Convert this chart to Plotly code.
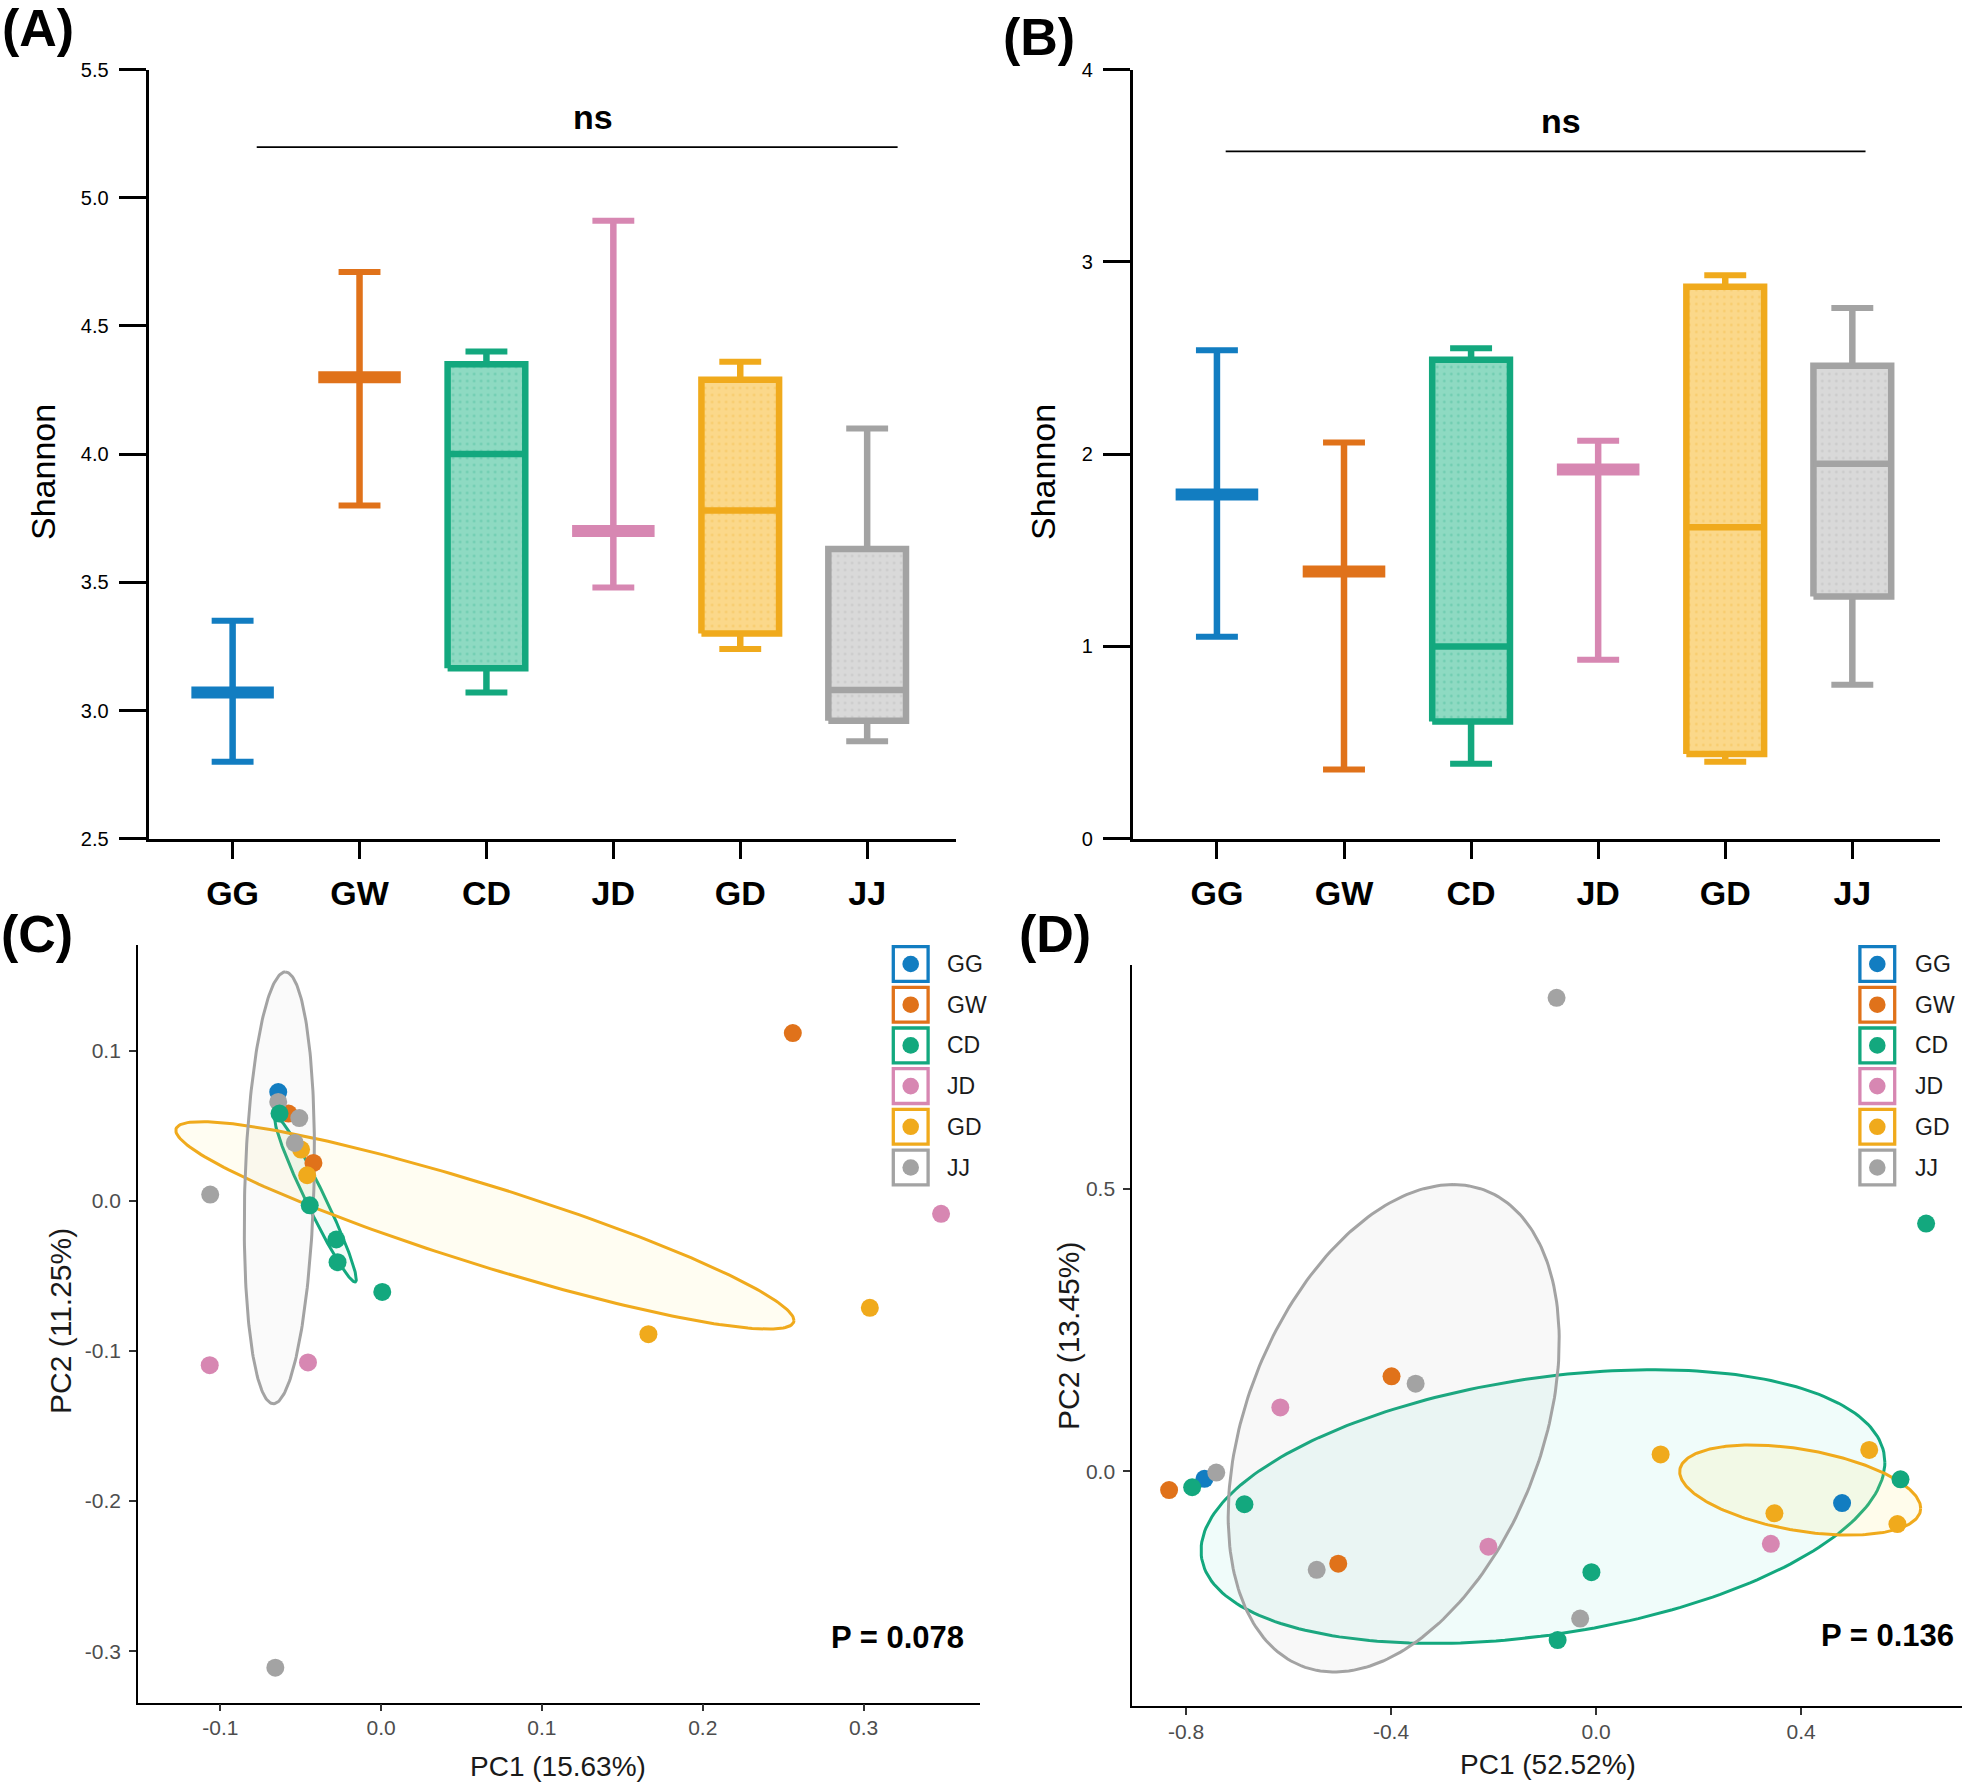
import numpy as np
import plotly.graph_objects as go

W, H = 1966, 1789

# ---------------- data ----------------
groups = ["GG", "GW", "CD", "JD", "GD", "JJ"]
line_colors = ["#127DC1", "#E0721A", "#13A87E", "#D787B2", "#F0AA1C", "#A3A3A3"]
fill_colors = ["#8AC0E3", "#F3BE93", "#8EDAC2", "#EEC6DB", "#FBD88A", "#D9D9D9"]

# Panel A (Shannon) box statistics
a_min = [2.80, 3.80, 3.07, 3.48, 3.24, 2.88]
a_q1 = [3.07, 4.30, 3.165, 3.70, 3.30, 2.96]
a_med = [3.07, 4.30, 4.00, 3.70, 3.78, 3.08]
a_q3 = [3.07, 4.30, 4.35, 3.70, 4.29, 3.63]
a_max = [3.35, 4.71, 4.40, 4.91, 4.36, 4.10]
a_yticks = [2.5, 3.0, 3.5, 4.0, 4.5, 5.0, 5.5]

# Panel B (Shannon) box statistics
b_min = [1.05, 0.36, 0.39, 0.93, 0.40, 0.80]
b_q1 = [1.79, 1.39, 0.61, 1.92, 0.44, 1.26]
b_med = [1.79, 1.39, 1.00, 1.92, 1.62, 1.95]
b_q3 = [1.79, 1.39, 2.49, 1.92, 2.87, 2.46]
b_max = [2.54, 2.06, 2.55, 2.07, 2.93, 2.76]
b_yticks = [0, 1, 2, 3, 4]

# Panel C PCoA coordinates
c_pc1 = {
    "GG": [-0.0640],
    "GW": [0.2560, -0.0576, -0.0421],
    "CD": [-0.0632, -0.0444, -0.0279, -0.0271, 0.0007],
    "JD": [0.3482, -0.1066, -0.0455],
    "GD": [0.1662, 0.3039, -0.0498, -0.0460],
    "JJ": [-0.0640, -0.0509, -0.0537, -0.1063, -0.0658],
}
c_pc2 = {
    "GG": [0.0724],
    "GW": [0.1117, 0.0581, 0.0252],
    "CD": [0.0581, -0.0030, -0.0258, -0.0409, -0.0607],
    "JD": [-0.0087, -0.1095, -0.1077],
    "GD": [-0.0889, -0.0713, 0.0341, 0.0170],
    "JJ": [0.0658, 0.0551, 0.0385, 0.0041, -0.3110],
}
# ellipse params: centre (cx, cy) and conjugate semi-diameters (ax, ay), (bx, by)
c_ell_groups = ["CD", "GD", "JJ"]
c_ell_cx = [-0.0408, 0.0645, -0.0633]
c_ell_cy = [0.0009, -0.0164, 0.0086]
c_ell_ax = [-0.0245, 0.1922, 0.0037]
c_ell_ay = [0.0550, -0.0633, 0.1438]
c_ell_bx = [0.0065, 0.0, 0.0215]
c_ell_by = [0.0, 0.0277, 0.0]
c_ell_fill = ["rgba(19,168,126,0.05)", "rgba(255,232,110,0.09)", "rgba(160,160,160,0.05)"]
c_xticks = [-0.1, 0.0, 0.1, 0.2, 0.3]
c_xtext = ["-0.1", "0.0", "0.1", "0.2", "0.3"]
c_yticks = [-0.3, -0.2, -0.1, 0.0, 0.1]
c_ytext = ["-0.3", "-0.2", "-0.1", "0.0", "0.1"]

# Panel D PCoA coordinates
d_pc1 = {
    "GG": [-0.764, 0.480],
    "GW": [-0.833, -0.399, -0.503],
    "CD": [-0.788, -0.686, 0.644, 0.594, -0.009, -0.075],
    "JD": [-0.616, -0.210, 0.341],
    "GD": [0.126, 0.533, 0.348, 0.588],
    "JJ": [-0.741, -0.352, -0.077, -0.545, -0.031],
}
d_pc2 = {
    "GG": [-0.013, -0.056],
    "GW": [-0.033, 0.168, -0.163],
    "CD": [-0.028, -0.058, 0.438, -0.014, -0.178, -0.298],
    "JD": [0.113, -0.133, -0.128],
    "GD": [0.030, 0.038, -0.074, -0.093],
    "JJ": [-0.002, 0.155, 0.837, -0.174, -0.260],
}
d_ell_groups = ["CD", "GD", "JJ"]
d_ell_cx = [-0.1036, 0.3983, -0.3948]
d_ell_cy = [-0.0620, -0.0329, 0.0762]
d_ell_ax = [0.6671, 0.2351, 0.1158]
d_ell_ay = [0.0780, -0.0323, 0.4308]
d_ell_bx = [0.0, 0.0, 0.3015]
d_ell_by = [0.2290, 0.0728, 0.0]
d_ell_fill = ["rgba(60,215,195,0.08)", "rgba(255,230,100,0.13)", "rgba(150,150,150,0.07)"]
d_xticks = [-0.8, -0.4, 0.0, 0.4]
d_xtext = ["-0.8", "-0.4", "0.0", "0.4"]
d_yticks = [0.0, 0.5]
d_ytext = ["0.0", "0.5"]

c_ptext = "P = 0.078"
d_ptext = "P = 0.136"
c_xtitle, c_ytitle = "PC1 (15.63%)", "PC2 (11.25%)"
d_xtitle, d_ytitle = "PC1 (52.52%)", "PC2 (13.45%)"

# ---------------- helpers ----------------
FONT = "Liberation Sans, Arial, sans-serif"


def px(x):
    return x / W


def py(y):
    return 1 - y / H


fig = go.Figure()
color_of = dict(zip(groups, line_colors))


def box_panel(xa, ya, mins, q1, med, q3, mx):
    hw = 0.306   # half box width (category units)
    cap = 0.165  # half cap width
    for i, g in enumerate(groups):
        col = line_colors[i]
        has_box = q3[i] > q1[i]
        if has_box:
            fig.add_trace(go.Bar(
                x=[i], y=[q3[i] - q1[i]], base=[q1[i]], width=2 * hw,
                marker=dict(color=fill_colors[i], line=dict(width=0),
                            pattern=dict(shape=".", fillmode="overlay", bgcolor=fill_colors[i],
                                         fgcolor=col, fgopacity=0.3, size=7, solidity=0.1)),
                xaxis=xa, yaxis=ya, showlegend=False, hoverinfo="skip"))
        # whiskers
        fig.add_trace(go.Scatter(
            x=[i, i, None, i, i], y=[mins[i], q1[i], None, q3[i], mx[i]],
            mode="lines", line=dict(color=col, width=6.5),
            xaxis=xa, yaxis=ya, showlegend=False, hoverinfo="skip"))
        # caps
        fig.add_trace(go.Scatter(
            x=[i - cap, i + cap, None, i - cap, i + cap],
            y=[mins[i], mins[i], None, mx[i], mx[i]],
            mode="lines", line=dict(color=col, width=6),
            xaxis=xa, yaxis=ya, showlegend=False, hoverinfo="skip"))
        if has_box:
            fig.add_trace(go.Scatter(
                x=[i - hw, i + hw, i + hw, i - hw, i - hw],
                y=[q1[i], q1[i], q3[i], q3[i], q1[i]],
                mode="lines", line=dict(color=col, width=6.5),
                xaxis=xa, yaxis=ya, showlegend=False, hoverinfo="skip"))
            fig.add_trace(go.Scatter(
                x=[i - hw, i + hw], y=[med[i], med[i]],
                mode="lines", line=dict(color=col, width=6.5),
                xaxis=xa, yaxis=ya, showlegend=False, hoverinfo="skip"))
        else:
            fig.add_trace(go.Scatter(
                x=[i - 0.325, i + 0.325], y=[med[i], med[i]],
                mode="lines", line=dict(color=col, width=12),
                xaxis=xa, yaxis=ya, showlegend=False, hoverinfo="skip"))


def pcoa_panel(xa, ya, pc1, pc2, eg, ecx, ecy, eax, eay, ebx, eby, efill):
    t = np.linspace(0, 2 * np.pi, 240)
    for k, g in enumerate(eg):
        ex = ecx[k] + eax[k] * np.cos(t) + ebx[k] * np.sin(t)
        ey = ecy[k] + eay[k] * np.cos(t) + eby[k] * np.sin(t)
        fig.add_trace(go.Scatter(
            x=ex, y=ey, mode="lines", fill="toself", fillcolor=efill[k],
            line=dict(color=color_of[g], width=3),
            xaxis=xa, yaxis=ya, showlegend=False, hoverinfo="skip"))
    for g in ["GG", "GW", "GD", "JJ", "CD", "JD"]:
        fig.add_trace(go.Scatter(
            x=pc1[g], y=pc2[g], mode="markers",
            marker=dict(color=color_of[g], size=18, line=dict(width=0)),
            xaxis=xa, yaxis=ya, showlegend=False, name=g))


box_panel("x", "y", a_min, a_q1, a_med, a_q3, a_max)
box_panel("x2", "y2", b_min, b_q1, b_med, b_q3, b_max)
pcoa_panel("x3", "y3", c_pc1, c_pc2, c_ell_groups, c_ell_cx, c_ell_cy, c_ell_ax,
           c_ell_ay, c_ell_bx, c_ell_by, c_ell_fill)
pcoa_panel("x4", "y4", d_pc1, d_pc2, d_ell_groups, d_ell_cx, d_ell_cy, d_ell_ax,
           d_ell_ay, d_ell_bx, d_ell_by, d_ell_fill)

# ---------------- axes ----------------
box_x = dict(showgrid=False, zeroline=False, showline=True, linecolor="black", linewidth=3,
             ticks="outside", ticklen=17, tickwidth=3, tickcolor="black",
             tickvals=list(range(len(groups))), ticktext=groups, automargin=False,
             tickfont=dict(family=FONT, size=34, color="black", weight="bold"),
             ticklabelstandoff=5)
box_y = dict(showgrid=False, zeroline=False, showline=True, linecolor="black", linewidth=3,
             ticks="outside", ticklen=27, tickwidth=3, tickcolor="black", automargin=False,
             tickfont=dict(family=FONT, size=20, color="black"), ticklabelstandoff=6)
pc_ax = dict(showgrid=False, zeroline=False, showline=True, linecolor="black", linewidth=1.8,
             ticks="outside", ticklen=7, tickwidth=1.5, tickcolor="#333333", automargin=False,
             tickfont=dict(family=FONT, size=21, color="#4D4D4D"))

fig.update_layout(
    template="none",
    xaxis=dict(box_x, domain=[px(148.6), px(956)], range=[-0.662, 5.70], anchor="y"),
    yaxis=dict(box_y, domain=[py(838.7), py(69.5)], range=[2.5, 5.5], anchor="x",
               tickvals=a_yticks, ticktext=[f"{v:.1f}" for v in a_yticks]),
    xaxis2=dict(box_x, domain=[px(1132.8), px(1940)], range=[-0.662, 5.69], anchor="y2"),
    yaxis2=dict(box_y, domain=[py(838.7), py(69.5)], range=[0, 4], anchor="x2",
                tickvals=b_yticks, ticktext=[str(v) for v in b_yticks]),
    xaxis3=dict(pc_ax, domain=[px(138), px(980)], range=[-0.1512, 0.3724], anchor="y3",
                tickvals=c_xticks, ticktext=c_xtext, ticklabelstandoff=-2),
    yaxis3=dict(pc_ax, domain=[py(1702.5), py(945.4)], range=[-0.3342, 0.1701], anchor="x3",
                tickvals=c_yticks, ticktext=c_ytext, ticklabelstandoff=4),
    xaxis4=dict(pc_ax, domain=[px(1132.2), px(1962)], range=[-0.905, 0.714], anchor="y4",
                tickvals=d_xticks, ticktext=d_xtext, ticklabelstandoff=-1),
    yaxis4=dict(pc_ax, domain=[py(1706), py(965.2)], range=[-0.4146, 0.8947], anchor="x4",
                tickvals=d_yticks, ticktext=d_ytext, ticklabelstandoff=4),
    barmode="overlay",
    width=W, height=H, margin=dict(l=0, r=0, t=0, b=0, pad=0, autoexpand=False),
    paper_bgcolor="white", plot_bgcolor="white", showlegend=False,
)

shapes = []
annotations = []

# significance brackets
shapes.append(dict(type="line", xref="x", yref="y", x0=0.19, x1=5.24, y0=5.197, y1=5.197,
                   line=dict(color="black", width=1.8)))
annotations.append(dict(xref="x", yref="y", x=2.84, y=5.315, text="ns", showarrow=False,
                        font=dict(family=FONT, size=34, color="black", weight="bold")))
shapes.append(dict(type="line", xref="x2", yref="y2", x0=0.069, x1=5.104, y0=3.574, y1=3.574,
                   line=dict(color="black", width=1.8)))
annotations.append(dict(xref="x2", yref="y2", x=2.708, y=3.732, text="ns", showarrow=False,
                        font=dict(family=FONT, size=34, color="black", weight="bold")))

# panel letters
for lab, (lx, ly) in zip(["(A)", "(B)", "(C)", "(D)"],
                         [(37.5, 28), (1039, 37), (37, 934), (1055, 934)]):
    annotations.append(dict(xref="paper", yref="paper", x=px(lx), y=py(ly), text=lab,
                            showarrow=False, xanchor="center", yanchor="middle",
                            font=dict(family=FONT, size=52, color="black", weight="bold")))


def title(text, x, y, size, angle=0, color="black"):
    annotations.append(dict(xref="paper", yref="paper", x=px(x), y=py(y), text=text,
                            showarrow=False, xanchor="center", yanchor="middle",
                            textangle=angle, font=dict(family=FONT, size=size, color=color)))


title("Shannon", 43, 472, 34, -90)
title("Shannon", 1043, 472, 34, -90)
title(c_ytitle, 60, 1321, 30, -90, "#1A1A1A")
title(c_xtitle, 558, 1766, 28, 0, "#1A1A1A")
title(d_ytitle, 1068, 1336, 30, -90, "#1A1A1A")
title(d_xtitle, 1548, 1764, 28, 0, "#1A1A1A")

# P values
annotations.append(dict(xref="paper", yref="paper", x=px(966), y=py(1637), text=c_ptext,
                        showarrow=False, xanchor="right", yanchor="middle",
                        font=dict(family=FONT, size=31, color="black", weight="bold")))
annotations.append(dict(xref="paper", yref="paper", x=px(1956), y=py(1635), text=d_ptext,
                        showarrow=False, xanchor="right", yanchor="middle",
                        font=dict(family=FONT, size=31, color="black", weight="bold")))

# legends (drawn manually: coloured square with dot)
for bx0, lab_x in [(891.7, 945), (1858.3, 1913.3)]:
    for k, g in enumerate(groups):
        y0 = 945 + k * 40.7
        col = color_of[g]
        shapes.append(dict(type="rect", xref="paper", yref="paper",
                           x0=px(bx0 + 1.6), x1=px(bx0 + 38 - 1.6),
                           y0=py(y0 + 1.6), y1=py(y0 + 38 - 1.6),
                           line=dict(color=col, width=3.3), fillcolor="white"))
        cxp, cyp = bx0 + 19, y0 + 19
        shapes.append(dict(type="circle", xref="paper", yref="paper",
                           x0=px(cxp - 8.3), x1=px(cxp + 8.3),
                           y0=py(cyp - 8.3), y1=py(cyp + 8.3),
                           line=dict(width=0), fillcolor=col))
        annotations.append(dict(xref="paper", yref="paper", x=px(lab_x), y=py(cyp), text=g,
                                showarrow=False, xanchor="left", yanchor="middle",
                                font=dict(family=FONT, size=23, color="#1A1A1A")))

fig.update_layout(shapes=shapes, annotations=annotations)
fig.write_html("out.html")
